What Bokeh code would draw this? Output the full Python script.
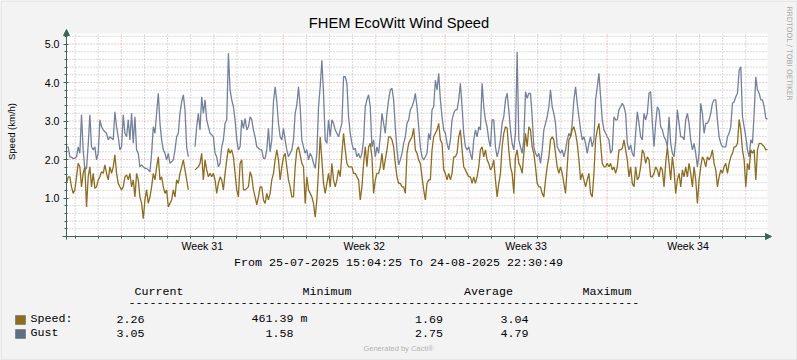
import numpy as np
from math import pi
from bokeh.plotting import figure
from bokeh.models import (ColumnDataSource, Range1d, FixedTicker, Label,
                          Arrow, NormalHead, BoxAnnotation, PrintfTickFormatter)
from bokeh.embed import file_html
from bokeh.resources import INLINE

nan = float("nan")

# ---------------- data ----------------
t_start = "2025-07-25T15:04:25"
t_end = "2025-08-24T22:30:49"

gust_a = [2.33,2.32,2.07,2.06,2.03,2.03,2.07,2.33,2.16,3.16,
          2.25,1.73,1.77,2.38,3.16,2.33,2.25,2.33,1.99,2.16,
          3.03,2.85,2.77,2.72,2.68,2.51,2.59,2.55,2.51,3.24,
          2.85,2.59,2.25,2.33,3.16,2.68,2.59,3.03,2.51,3.2,
          2.42,3.11,2.25,2.16,1.81,1.86,1.81,1.77,1.77,1.73,
          1.68,2.16,2.85,2.68,3.2,3.72,2.94,2.51,2.25,2.16,
          1.99,2.16,1.9,1.94,1.99,2.25,2.59,2.68,3.2,3.5,
          3.68,3.29,2.33,2.07,nan,nan,nan,2.33,2.85,3.2,
          2.77,3.63,3.2,3.55,3.03,2.85,2.68,2.64,2.59,2.16,
          2.07,1.81,1.9,2.33,2.51,2.94,3.03,4.76,3.81,3.55,
          3.37,3.03,2.51,2.25,2.33]
gust_b = [3.03,2.81,3.07,2.77,2.85,3.11,3.03,2.77,2.59,2.33,
          2.29,2.25,2.25,2.03,2.03,2.25,2.81,2.2,2.51,3.5,
          3.89,3.5,2.94,2.59,2.51,2.81,2.51,2.25,2.07,2.16,
          2.25,2.51,3.2,3.42,3.89,3.37,2.51,2.33,2.16,2.25,
          1.99,2.16,2.07,1.9,1.77,2.16,3.37,3.89,4.58,3.72,
          2.51,2.42,3.03,2.59,3.03,2.94,2.77,2.68,2.59,2.77,
          2.94,4.15,4.15,3.98,3.11,2.68,2.42,2.25,2.29,2.07,
          2.16,2.03,2.16,2.51,3.37,3.55,3.68,3.37,2.33,2.51,
          2.07,2.33,2.16,2.59,3.2,2.94,2.68,3.2,3.55,3.81,
          3.85,3.55,2.85,2.25,1.86,1.99,2.16,2.42,2.59,2.94,
          3.03,3.29,3.37,3.5,3.72]
gust_c = [3.37,2.85,2.33,2.07,1.99,2.07,2.16,2.68,2.51,3.29,
          3.37,4.06,3.81,4.24,3.55,3.11,2.77,2.68,2.42,2.25,
          2.51,3.03,3.2,3.29,3.29,3.55,3.98,3.37,2.68,2.33,
          2.25,2.33,2.16,1.99,2.51,2.77,2.59,2.85,2.77,3.98,
          3.37,3.03,2.85,2.51,2.33,3.03,3.03,2.33,2.07,2.25,
          2.51,2.94,3.11,3.55,3.72,3.29,2.77,2.42,2.25,2.68,
          4.79,2.51,2.33,2.16,2.51,3.76,3.59,3.72,3.72,3.11,
          2.33,2.16,2.07,2.16,1.9,2.25,2.77,2.94,3.11,3.37,
          3.81,3.37,3.2,2.94,2.33,2.25,2.16,2.25,2.07,2.25,
          2.51,2.68,2.59,2.94,3.55,3.89,3.46,3.11,2.77,2.51,
          2.59,2.42,2.16,2.42,2.59]
gust_d = [2.33,2.51,3.55,3.89,4.24,3.63,3.03,2.77,2.68,2.59,
          2.51,2.16,2.25,3.11,3.03,3.03,3.29,3.37,3.46,3.37,
          3.2,2.42,2.25,2.38,2.16,2.07,2.68,3.24,2.94,2.59,
          2.51,3.2,3.03,3.2,3.72,3.76,2.94,2.33,2.94,3.37,
          3.29,2.85,2.77,2.59,2.51,2.33,3.11,2.42,2.16,2.07,
          2.51,3.29,2.94,2.59,2.59,2.51,3.03,3.2,2.94,2.51,
          2.25,2.42,2.16,1.81,2.16,3.46,3.2,2.68,2.94,2.94,
          3.03,3.2,3.46,3.55,3.55,3.03,2.59,2.42,2.33,2.33,
          2.33,2.59,2.68,2.85,3.46,3.5,3.63,3.72,4.32,4.41,
          3.11,2.85,2.59,2.25,2.07,2.51,2.42,3.2,4.15,3.81,
          3.72,3.55,3.55,3.37,3.07,3.05]

speed_a = [1.38,1.55,1.55,1.29,1.12,1.21,1.55,1.9,1.81,1.29,
           1.64,1.81,0.77,1.55,1.81,1.29,1.64,1.25,1.29,1.47,
           1.55,1.68,1.64,1.86,1.64,1.47,1.81,1.64,1.81,2.12,
           1.64,1.38,1.29,1.21,1.29,1.55,1.6,1.47,1.64,1.29,
           1.47,1.03,1.64,1.47,1.03,0.86,0.46,0.95,1.21,0.86,
           1.03,1.29,1.64,1.47,1.81,2.07,1.47,1.55,1.29,1.12,
           1.21,0.77,0.86,0.95,1.21,1.03,1.47,1.38,1.64,1.81,
           1.99,1.73,1.47,1.21,nan,nan,nan,1.73,1.77,1.81,
           1.9,2.16,1.47,1.99,1.73,1.55,1.64,1.55,1.64,1.47,
           1.12,1.38,1.55,1.47,1.21,1.64,1.99,2.29,2.16,2.25,
           2.07,1.64,1.21,1.03,1.9]
speed_b = [1.99,1.21,1.21,1.25,1.29,1.68,1.55,1.21,1.03,0.82,
           1.03,1.29,1.29,0.95,0.86,1.12,0.95,1.12,1.47,1.64,
           1.99,2.25,1.99,1.47,1.81,2.07,2.16,1.81,1.47,1.29,
           1.03,1.03,1.81,2.25,2.33,2.12,1.9,1.81,0.86,1.55,
           1.21,1.12,1.03,0.86,0.5,0.95,1.73,2.59,1.99,1.38,
           1.12,1.38,1.64,1.29,1.9,1.47,1.29,1.47,1.73,1.55,
           2.16,2.68,2.25,1.9,1.81,1.81,1.81,1.64,1.64,1.55,
           1.47,0.95,1.29,1.9,2.33,1.81,2.33,2.42,2.07,1.12,
           1.47,1.64,1.64,1.81,2.16,1.73,1.99,2.25,2.59,2.59,
           2.51,2.33,1.9,1.55,1.38,1.38,1.29,1.29,1.12,2.16,
           2.42,2.51,2.59,2.81,2.25]
speed_c = [2.16,1.99,1.9,1.55,1.21,0.95,1.38,1.47,1.47,2.25,
           2.59,2.68,2.77,2.94,2.51,2.42,1.73,1.64,1.47,1.64,
           1.47,1.64,2.07,2.07,2.16,2.59,2.77,2.25,1.81,1.73,
           1.64,1.55,1.55,1.38,1.55,1.38,1.55,1.81,2.25,2.33,
           2.07,2.25,1.99,1.9,1.73,1.81,1.99,1.47,1.03,1.38,
           1.64,2.33,2.68,2.85,2.81,2.25,1.81,1.64,1.12,2.07,
           2.25,1.9,1.81,1.64,2.16,2.68,2.33,2.85,2.77,2.33,
           2.16,1.81,1.38,1.29,1.29,1.12,1.03,1.47,1.81,2.07,
           2.51,2.59,2.51,2.16,1.81,1.64,1.81,1.64,1.38,1.12,
           1.81,2.51,2.59,2.77,2.85,2.68,2.42,1.99,1.47,1.64,
           1.47,1.29,1.47,1.64,1.12]
speed_d = [1.03,1.64,2.51,2.77,2.94,2.42,1.9,1.81,1.81,1.9,
           1.81,1.9,1.73,1.81,1.64,1.81,2.25,2.25,2.29,2.51,
           2.25,1.99,1.55,1.81,1.38,1.29,1.81,1.47,1.55,1.81,
           2.25,2.16,1.9,2.07,1.99,1.55,1.55,1.64,1.81,1.73,
           1.55,1.81,1.73,1.29,1.9,2.33,1.9,1.47,2.07,1.73,
           1.12,1.47,1.64,1.29,1.73,1.55,1.81,1.55,1.9,1.64,
           1.29,1.81,1.47,0.86,1.47,1.81,2.07,1.99,1.81,2.07,
           1.99,2.07,2.25,1.9,1.73,1.29,1.55,1.73,1.64,1.81,
           1.9,1.64,1.9,2.07,2.16,2.33,2.33,2.42,3.04,2.77,
           2.25,1.99,1.29,1.9,1.73,2.25,2.16,2.25,1.47,2.25,
           2.42,2.42,2.38,2.33,2.25,2.26]

gust = gust_a + gust_b + gust_c + gust_d
speed = speed_a + speed_b + speed_c + speed_d

week_labels = ["Week 31", "Week 32", "Week 33", "Week 34"]
week_mondays = ["2025-07-28", "2025-08-04", "2025-08-11", "2025-08-18"]

legend_names = ["Speed:", "Gust"]
legend_current = ["2.26", "3.05"]
legend_minimum = ["461.39 m", "1.58"]
legend_average = ["1.69", "2.75"]
legend_maximum = ["3.04", "4.79"]
legend_headers = ["Current", "Minimum", "Average", "Maximum"]

title_text = "FHEM EcoWitt Wind Speed"
y_label = "Speed (km/h)"
range_text = "From 25-07-2025 15:04:25 To 24-08-2025 22:30:49"
watermark = "RRDTOOL / TOBI OETIKER"
footer = "Generated by Cacti\u00ae"

# ---------------- styles / geometry ----------------
SPEED_COL = "#8C6D22"
GUST_COL = "#74819A"
AX_COL = "#3E6358"
BG = "#F3F3F3"
MINOR_COL = "#8F8F8F"
MAJOR_COL = "#DE4F4F"
SANS = "Liberation Sans"
MONO = "Liberation Mono"
MONO_SIZE = "11.67px"

W, H = 797, 360
CL, CR, CT, CB = 66, 767, 33, 236      # chart canvas edges in page pixels
PX_PER_UNIT = 38.5


def ms(s):
    return float(np.datetime64(s, "ms").astype(np.int64))


t0 = ms(t_start)
t1 = ms(t_end)
mpp = (t1 - t0) / (CR - CL)             # ms per pixel
YTOP = (CB - CT) / PX_PER_UNIT

n = len(gust)
xs = np.linspace(t0, t1, n)
src = ColumnDataSource(dict(x=xs, speed=np.array(speed, dtype=float),
                            gust=np.array(gust, dtype=float)))

# the frame covers the whole image; the chart lives inside it via the ranges
p = figure(width=W, height=H,
           x_range=Range1d(t0 - CL * mpp, t1 + (W - CR) * mpp),
           y_range=Range1d(-(H - CB) / PX_PER_UNIT, CB / PX_PER_UNIT),
           output_backend="svg", toolbar_location=None, min_border=0,
           background_fill_color=BG, border_fill_color=BG, outline_line_color=None)
p.xgrid.visible = False
p.ygrid.visible = False

# white chart canvas
p.quad(left=[t0], right=[t1], bottom=[0], top=[YTOP], fill_color="white", line_color=None)

# grid lines
day_ms = [ms(str(np.datetime64("2025-07-26") + i)) for i in range(30)]
monday_ms = [ms(d) for d in week_mondays]
minor_days = [d for d in day_ms if d not in monday_ms]
week_centers = [m + 3.5 * 86400000.0 for m in monday_ms]
y_major = [1.0, 2.0, 3.0, 4.0, 5.0]
y_minor = [round(k * 0.2, 1) for k in range(1, 27) if k % 5 != 0]

p.segment(x0=minor_days, x1=minor_days, y0=0, y1=YTOP,
          line_color=MINOR_COL, line_alpha=0.65, line_dash="1 2", line_width=1)
p.segment(x0=t0, x1=t1, y0=y_minor, y1=y_minor,
          line_color=MINOR_COL, line_alpha=0.65, line_dash="1 2", line_width=1)
p.segment(x0=monday_ms, x1=monday_ms, y0=0, y1=YTOP,
          line_color=MAJOR_COL, line_alpha=0.6, line_dash="1 2", line_width=1)
p.segment(x0=t0, x1=t1, y0=y_major, y1=y_major,
          line_color=MAJOR_COL, line_alpha=0.6, line_dash="1 2", line_width=1)

# axes, pinned at the chart's origin
xa = p.xaxis[0]
xa.fixed_location = 0.0
xa.bounds = (t0, t1)
xa.ticker = FixedTicker(ticks=week_centers, minor_ticks=day_ms)
xa.major_label_overrides = {wc: lbl for wc, lbl in zip(week_centers, week_labels)}
xa.axis_line_color = AX_COL
xa.major_tick_in = 0
xa.major_tick_out = 0
xa.minor_tick_in = 1
xa.minor_tick_out = 2
xa.minor_tick_line_color = AX_COL
xa.major_label_standoff = 1
xa.major_label_text_font = SANS
xa.major_label_text_font_size = "10.6px"
xa.major_label_text_color = "#000000"

ya = p.yaxis[0]
ya.fixed_location = t0
ya.bounds = (0, YTOP)
ya.ticker = FixedTicker(ticks=y_major, minor_ticks=y_minor)
ya.formatter = PrintfTickFormatter(format="%.1f")
ya.axis_line_color = AX_COL
ya.major_tick_line_color = AX_COL
ya.minor_tick_line_color = AX_COL
ya.major_tick_in = 2
ya.major_tick_out = 3
ya.minor_tick_in = 1
ya.minor_tick_out = 2
ya.major_label_standoff = 4
ya.major_label_text_font = SANS
ya.major_label_text_font_size = "10.6px"
ya.major_label_text_color = "#000000"

# data lines
p.line("x", "gust", source=src, line_color=GUST_COL, line_width=1.3)
p.line("x", "speed", source=src, line_color=SPEED_COL, line_width=1.3)

# axis arrows
p.add_layout(Arrow(end=NormalHead(size=6, fill_color=AX_COL, line_color=AX_COL),
                   x_start=t0, y_start=-3 / PX_PER_UNIT, x_end=t0, y_end=(CB - 29) / PX_PER_UNIT,
                   line_color=AX_COL, line_width=1))
p.add_layout(Arrow(end=NormalHead(size=6, fill_color=AX_COL, line_color=AX_COL),
                   x_start=t0 - 4 * mpp, y_start=0, x_end=t1 + 4 * mpp, y_end=0,
                   line_color=AX_COL, line_width=1))


def txt(text, X, Y, size=MONO_SIZE, font=MONO, color="#000000", align="left",
        baseline="alphabetic", angle=0.0):
    p.add_layout(Label(x=X, y=H - Y, x_units="screen", y_units="screen",
                       text=text, text_font=font, text_font_size=size,
                       text_color=color, text_align=align, text_baseline=baseline,
                       angle=angle))


DY = -4.0   # vertical correction for text placement
txt(title_text, 398.5, 28.3 + DY - 2, size="14.7px", font=SANS, align="center")
txt(y_label, 10.5, 131, size="9.5px", font=SANS, align="center", baseline="middle",
    angle=pi / 2)
txt(watermark, 788.5, 6, size="7.3px", font="DejaVu Sans", color="#A8A8A8",
    align="left", baseline="middle", angle=-pi / 2)

txt(range_text, 398, 266.7 + DY, align="center")
for hdr, hx in zip(legend_headers, [134, 302, 463.5, 582]):
    txt(hdr, hx, 295 + DY)
txt("-" * 73, 128, 306.2 + DY - 0.5)

row_y = [322.8, 336.6]
sq_tops = [315, 329]
sq_cols = [SPEED_COL, "#5F6F82"]
for i in range(2):
    y = row_y[i] + DY
    txt(legend_names[i], 30, y)
    txt(legend_current[i], 116, y)
    txt(legend_minimum[i], 251 if i == 0 else 265, y)
    txt(legend_average[i], 414.5, y)
    txt(legend_maximum[i], 500, y)
    top = sq_tops[i]
    p.add_layout(BoxAnnotation(left=15, right=25, top=H - top, bottom=H - (top + 9),
                               left_units="screen", right_units="screen",
                               top_units="screen", bottom_units="screen",
                               fill_color=sq_cols[i], fill_alpha=1.0,
                               line_color="#2A2A2A", line_width=1))

txt(footer, 398, 351 + DY + 1, size="7.5px", font=SANS, color="#B4B4B4", align="center")

# thin outer frame of the image
p.add_layout(BoxAnnotation(left=0.5, right=W - 0.5, top=H - 0.5, bottom=0.5,
                           left_units="screen", right_units="screen",
                           top_units="screen", bottom_units="screen",
                           fill_color=None, line_color="#A8A8A8", line_width=1))

open("out.html", "w").write(file_html(p, INLINE))
